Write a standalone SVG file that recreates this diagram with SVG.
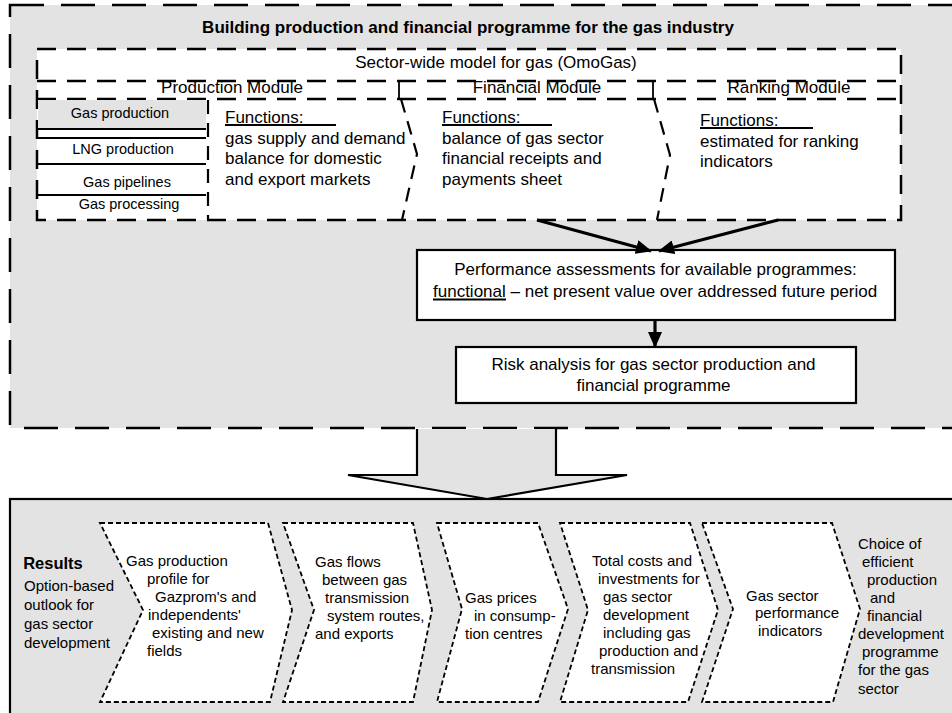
<svg xmlns="http://www.w3.org/2000/svg" width="952" height="713" viewBox="0 0 952 713">
<style>
text{font-family:"Liberation Sans",Arial,sans-serif;fill:#000}
.t17{font-size:17px}
.t15{font-size:15px}
.t14{font-size:14.5px}
.b{font-weight:bold}
.mid{text-anchor:middle}
.outer{fill:#e3e3e3;stroke:#000;stroke-width:2.5;stroke-dasharray:34 17}
.dash{fill:none;stroke:#000;stroke-width:2.5;stroke-dasharray:19 11}
.dashf{fill:#fff;stroke:#000;stroke-width:2.5;stroke-dasharray:19 11}
.chevd{fill:none;stroke:#000;stroke-width:2.2;stroke-dasharray:14 9}
.solid{fill:#fff;stroke:#000;stroke-width:2.2}
.ln{stroke:#000;stroke-width:1.8;fill:none}
.arr{stroke:#000;stroke-width:3.2;fill:none}
.chev{fill:#fff;stroke:#000;stroke-width:1.8;stroke-dasharray:5 3}
</style>
<defs>
<marker id="ah" markerUnits="userSpaceOnUse" markerWidth="16" markerHeight="14" refX="15" refY="7" orient="auto">
<path d="M0,0 L16,7 L0,14 z" fill="#000"/>
</marker>
</defs>
<rect x="0" y="0" width="952" height="713" fill="#fff"/>

<g id="programme-frame">
<rect class="outer" x="10" y="5" width="960" height="423"/>
<text class="t17 b mid" x="468" y="33">Building production and financial programme for the gas industry</text>
</g>

<g id="sector-model">
<rect class="dashf" x="37" y="49" width="864" height="171"/>
<text class="t17 mid" x="496" y="68">Sector-wide model for gas (OmoGas)</text>
<line class="dash" x1="37" y1="81" x2="901" y2="81"/>
<line class="dash" x1="37" y1="99" x2="901" y2="99"/>
<line class="ln" x1="399" y1="81" x2="399" y2="99"/>
<line class="ln" x1="653" y1="81" x2="653" y2="99"/>
</g>

<g id="production-module">
<text class="t17 mid" x="232" y="93">Production Module</text>
<rect x="38" y="100" width="168" height="29" fill="#e3e3e3"/>
<line class="ln" x1="37" y1="129" x2="206" y2="129"/>
<line class="ln" x1="37" y1="138" x2="206" y2="138"/>
<line class="ln" x1="37" y1="164" x2="206" y2="164"/>
<line class="ln" x1="37" y1="195" x2="206" y2="195"/>
<text class="t14 mid" x="120" y="118">Gas production</text>
<text class="t14 mid" x="123" y="154">LNG production</text>
<text class="t14 mid" x="127" y="187">Gas pipelines</text>
<text class="t14 mid" x="129" y="209">Gas processing</text>
<line class="chevd" x1="208" y1="100" x2="208" y2="220"/>
<polyline class="chevd" points="401,99 417,154 402,220"/>
<text class="t17" x="225" y="123">Functions:</text>
<line class="ln" x1="225" y1="125" x2="336" y2="125" stroke-width="1.3"/>
<text class="t17" x="225" y="144">gas supply and demand</text>
<text class="t17" x="225" y="164">balance for domestic</text>
<text class="t17" x="225" y="185">and export markets</text>
</g>

<g id="financial-module">
<text class="t17 mid" x="537" y="93">Financial Module</text>
<polyline class="chevd" points="654,99 670,155 657,220"/>
<text class="t17" x="442" y="123">Functions:</text>
<line class="ln" x1="442" y1="125" x2="552" y2="125" stroke-width="1.3"/>
<text class="t17" x="442" y="144">balance of gas sector</text>
<text class="t17" x="442" y="164">financial receipts and</text>
<text class="t17" x="442" y="185">payments sheet</text>
</g>

<g id="ranking-module">
<text class="t17 mid" x="789" y="93">Ranking Module</text>
<text class="t17" x="700" y="126">Functions:</text>
<line class="ln" x1="700" y1="128" x2="813" y2="128" stroke-width="1.3"/>
<text class="t17" x="700" y="147">estimated for ranking</text>
<text class="t17" x="700" y="167">indicators</text>
</g>

<g id="performance">
<rect class="solid" x="417" y="250" width="478" height="70"/>
<text class="t17 mid" x="655.5" y="275">Performance assessments for available programmes:</text>
<text class="t17" x="433" y="297">functional – net present value over addressed future period</text>
<line class="ln" x1="433" y1="299.5" x2="506" y2="299.5" stroke-width="1.4"/>
</g>

<g id="risk">
<rect class="solid" x="456" y="347" width="400" height="56"/>
<text class="t17 mid" x="653.5" y="370">Risk analysis for gas sector production and</text>
<text class="t17 mid" x="653.5" y="391">financial programme</text>
</g>

<g id="results-panel">
<rect x="10" y="499" width="960" height="230" fill="#e3e3e3" stroke="#000" stroke-width="2.2"/>
<text class="b mid" x="53" y="569" font-size="16.5">Results</text>
<text class="t15" x="24" y="591">Option-based</text>
<text class="t15" x="24" y="610">outlook for</text>
<text class="t15" x="24" y="629">gas sector</text>
<text class="t15" x="24" y="648">development</text>
</g>

<g id="connectors">
<line class="arr" x1="537" y1="220" x2="651" y2="251" marker-end="url(#ah)"/>
<line class="arr" x1="778" y1="220" x2="659" y2="251" marker-end="url(#ah)"/>
<line class="arr" x1="655" y1="320" x2="655" y2="347" marker-end="url(#ah)"/>
<polygon points="417,429 417,475 348,475 487,499 627,475 556,475 556,429" fill="#e3e3e3"/>
<polyline points="417,429 417,475 348,475 487,499 627,475 556,475 556,429" fill="none" stroke="#000" stroke-width="2.2"/>
</g>

<g id="chevron-production-profile">
<polygon class="chev" points="100,523 268,523 292,610 270,702 100,702 143,610"/>
<text class="t15" x="126" y="566">Gas production</text>
<text class="t15" x="147" y="584">profile for</text>
<text class="t15" x="155" y="602">Gazprom's and</text>
<text class="t15" x="148" y="620">independents'</text>
<text class="t15" x="152" y="638">existing and new</text>
<text class="t15" x="147" y="656">fields</text>
</g>

<g id="chevron-gas-flows">
<polygon class="chev" points="283,523 413,523 432,610 413,702 283,702 314,610"/>
<text class="t15" x="315" y="567">Gas flows</text>
<text class="t15" x="322" y="585">between gas</text>
<text class="t15" x="325" y="603">transmission</text>
<text class="t15" x="327" y="621">system routes,</text>
<text class="t15" x="315" y="639">and exports</text>
</g>

<g id="chevron-gas-prices">
<polygon class="chev" points="437,523 538,523 568,609 538,702 437,702 462,609"/>
<text class="t15" x="465" y="603">Gas prices</text>
<text class="t15" x="474" y="621">in consump-</text>
<text class="t15" x="465" y="639">tion centres</text>
</g>

<g id="chevron-total-costs">
<polygon class="chev" points="560,523 690,523 718,610 688,702 560,702 588,610"/>
<text class="t15" x="592" y="566">Total costs and</text>
<text class="t15" x="598" y="584">investments for</text>
<text class="t15" x="603" y="602">gas sector</text>
<text class="t15" x="603" y="620">development</text>
<text class="t15" x="603" y="638">including gas</text>
<text class="t15" x="599" y="656">production and</text>
<text class="t15" x="591" y="674">transmission</text>
</g>

<g id="chevron-performance-indicators">
<polygon class="chev" points="702,523 832,523 860,609 833,702 702,702 733,609"/>
<text class="t15" x="746" y="601">Gas sector</text>
<text class="t15" x="755" y="618">performance</text>
<text class="t15" x="758" y="636">indicators</text>
</g>

<g id="choice-text">
<text class="t15" x="858" y="549">Choice of</text>
<text class="t15" x="862" y="567">efficient</text>
<text class="t15" x="867" y="585">production</text>
<text class="t15" x="870" y="603">and</text>
<text class="t15" x="867" y="621">financial</text>
<text class="t15" x="858" y="639">development</text>
<text class="t15" x="862" y="657">programme</text>
<text class="t15" x="858" y="675">for the gas</text>
<text class="t15" x="858" y="694">sector</text>
</g>
</svg>
